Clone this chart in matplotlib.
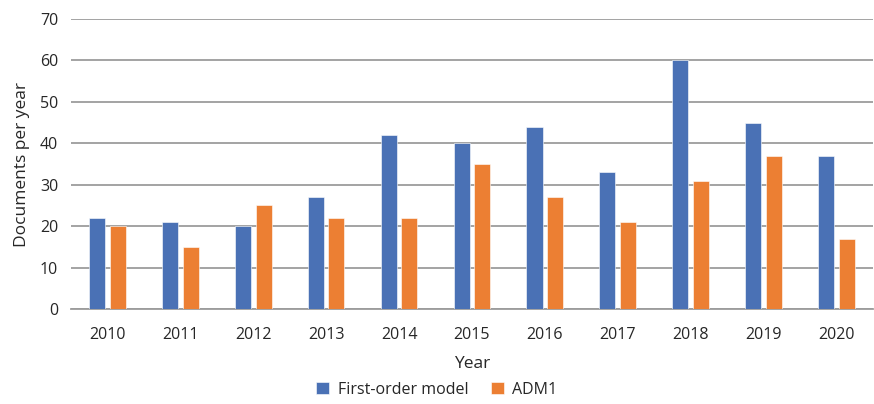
import matplotlib

matplotlib.use("Agg")

import matplotlib.pyplot as plt
import numpy as np

years = ["2010", "2011", "2012", "2013", "2014", "2015", "2016", "2017", "2018", "2019", "2020"]
first_order = [22, 21, 20, 27, 42, 40, 44, 33, 60, 45, 37]
adm1 = [20, 15, 25, 22, 22, 35, 27, 21, 31, 37, 17]

BLUE = "#4A71B5"
ORANGE = "#EC7F33"
GRID = "#9C9C9C"
TEXT = "#262626"

plt.rcParams["font.family"] = ["Open Sans", "DejaVu Sans"]

figure = plt.figure(figsize=(8.74, 4.04), dpi=100)
axis = figure.add_axes([0.081, 0.235, 0.918, 0.718])

x = np.arange(len(years))
width = 0.22
gap = 0.065
axis.bar(x - (width + gap) / 2, first_order, width, color=BLUE,
         edgecolor="white", linewidth=0.4, label="First-order model", zorder=3)
axis.bar(x + (width + gap) / 2, adm1, width, color=ORANGE,
         edgecolor="white", linewidth=0.4, label="ADM1", zorder=3)

axis.set_xlim(-0.5, len(years) - 0.5)
axis.set_ylim(0, 70)
axis.set_yticks(range(0, 71, 10))
axis.set_xticks(x)
axis.set_xticklabels(years)
axis.yaxis.grid(True, color=GRID, linewidth=1.3, zorder=0)
axis.set_axisbelow(True)
for side in ["top", "right", "left"]:
    axis.spines[side].set_visible(False)
axis.spines["bottom"].set_color(GRID)
axis.spines["bottom"].set_linewidth(1.3)
axis.tick_params(axis="both", length=0, labelsize=11.5, colors=TEXT)
axis.tick_params(axis="x", pad=13)
axis.tick_params(axis="y", pad=9)

axis.set_xlabel("Year", fontsize=12.5, color=TEXT, labelpad=9)
axis.set_ylabel("Documents per year", fontsize=12.5, color=TEXT, labelpad=7)

legend = figure.legend(
    loc="center",
    bbox_to_anchor=(0.5, 0.035),
    ncol=2,
    frameon=False,
    fontsize=11.5,
    handlelength=0.8,
    handleheight=0.8,
    handletextpad=0.55,
    columnspacing=1.4,
)
for text in legend.get_texts():
    text.set_color(TEXT)

figure.savefig("out.png", dpi=100)
plt.close(figure)
